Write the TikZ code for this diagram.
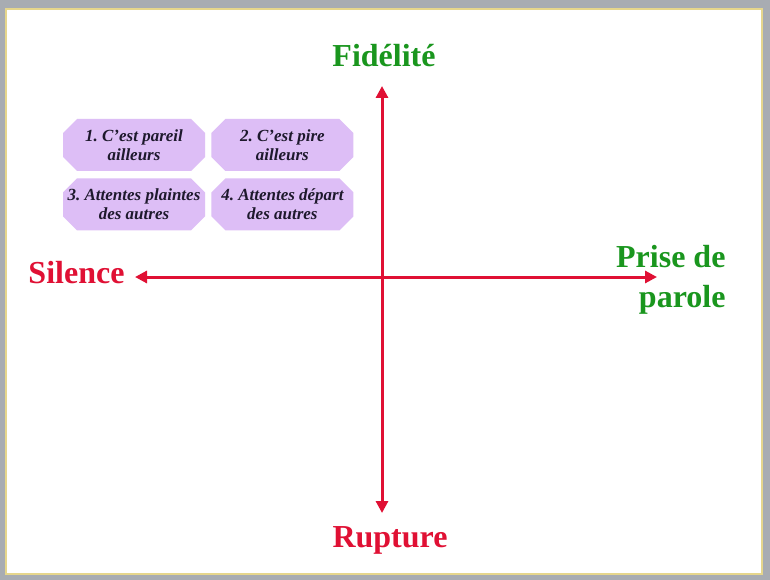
\documentclass[tikz,border=0pt]{standalone}
\usepackage{fontspec}
\setmainfont{Liberation Serif}
\usetikzlibrary{positioning,arrows.meta,shapes.misc}
\frenchspacing
\definecolor{axisred}{RGB}{224,16,52}
\definecolor{labelgreen}{RGB}{26,150,30}
\definecolor{boxlilac}{RGB}{221,190,246}
\definecolor{boxtext}{RGB}{30,25,45}
\definecolor{slidegray}{RGB}{168,172,178}
\definecolor{slideedge}{RGB}{230,214,140}
\tikzset{reason box/.style={chamfered rectangle, chamfered rectangle xsep=6.5pt, chamfered rectangle ysep=7.5pt,
    fill=boxlilac, text=boxtext, minimum width=142pt, minimum height=52pt, inner xsep=-3pt, inner ysep=-2pt,
    align=center, font=\fontsize{17}{19}\selectfont\bfseries\itshape,
    execute at begin node=\rule{0pt}{16.5pt}},
  axis label/.style={font=\fontsize{32}{40}\selectfont\bfseries},}

\begin{document}
\begin{tikzpicture}[x=1pt, y=-1pt, axis/.style={draw=axisred, line width=3pt, {Triangle[length=12pt,width=12pt]}-{Triangle[length=12pt,width=12pt]}}]
        % Slide
        \fill[slidegray] (0,0) rectangle (770,580);
        \filldraw[fill=white, draw=slideedge, line width=1.5pt] (6,9) rectangle (762,574);
        % Axes
        \coordinate (top) at (382,86);
        \coordinate (bottom) at (382,513);
        \coordinate (left) at (135,277);
        \coordinate (right) at (657,277);
        \draw[axis] (bottom) -- (top);
        \draw[axis] (left) -- (right);
        % Labels
        \node[axis label, text=labelgreen] (fid) at (384,56) {Fidélité};
        \node[axis label, text=axisred, anchor=east] (sil) at (128,273) {Silence};
        \node[axis label, text=labelgreen, align=right, anchor=east] (pp) at (729,280) {Prise de\\parole};
        \node[axis label, text=axisred] (rup) at (390,540) {Rupture};
        % Boxes
        \node[reason box] (r1) at (134,145) {1. C’est pareil\\ailleurs};
        \node[reason box] [right = 6pt of r1] (r2) {2. C’est pire\\ailleurs};
        \node[reason box] [below = 7pt of r1] (r3) {3. Attentes plaintes\\des autres};
        \node[reason box] [right = 6pt of r3] (r4) {4. Attentes départ\\des autres};
    \end{tikzpicture}
\end{document}
